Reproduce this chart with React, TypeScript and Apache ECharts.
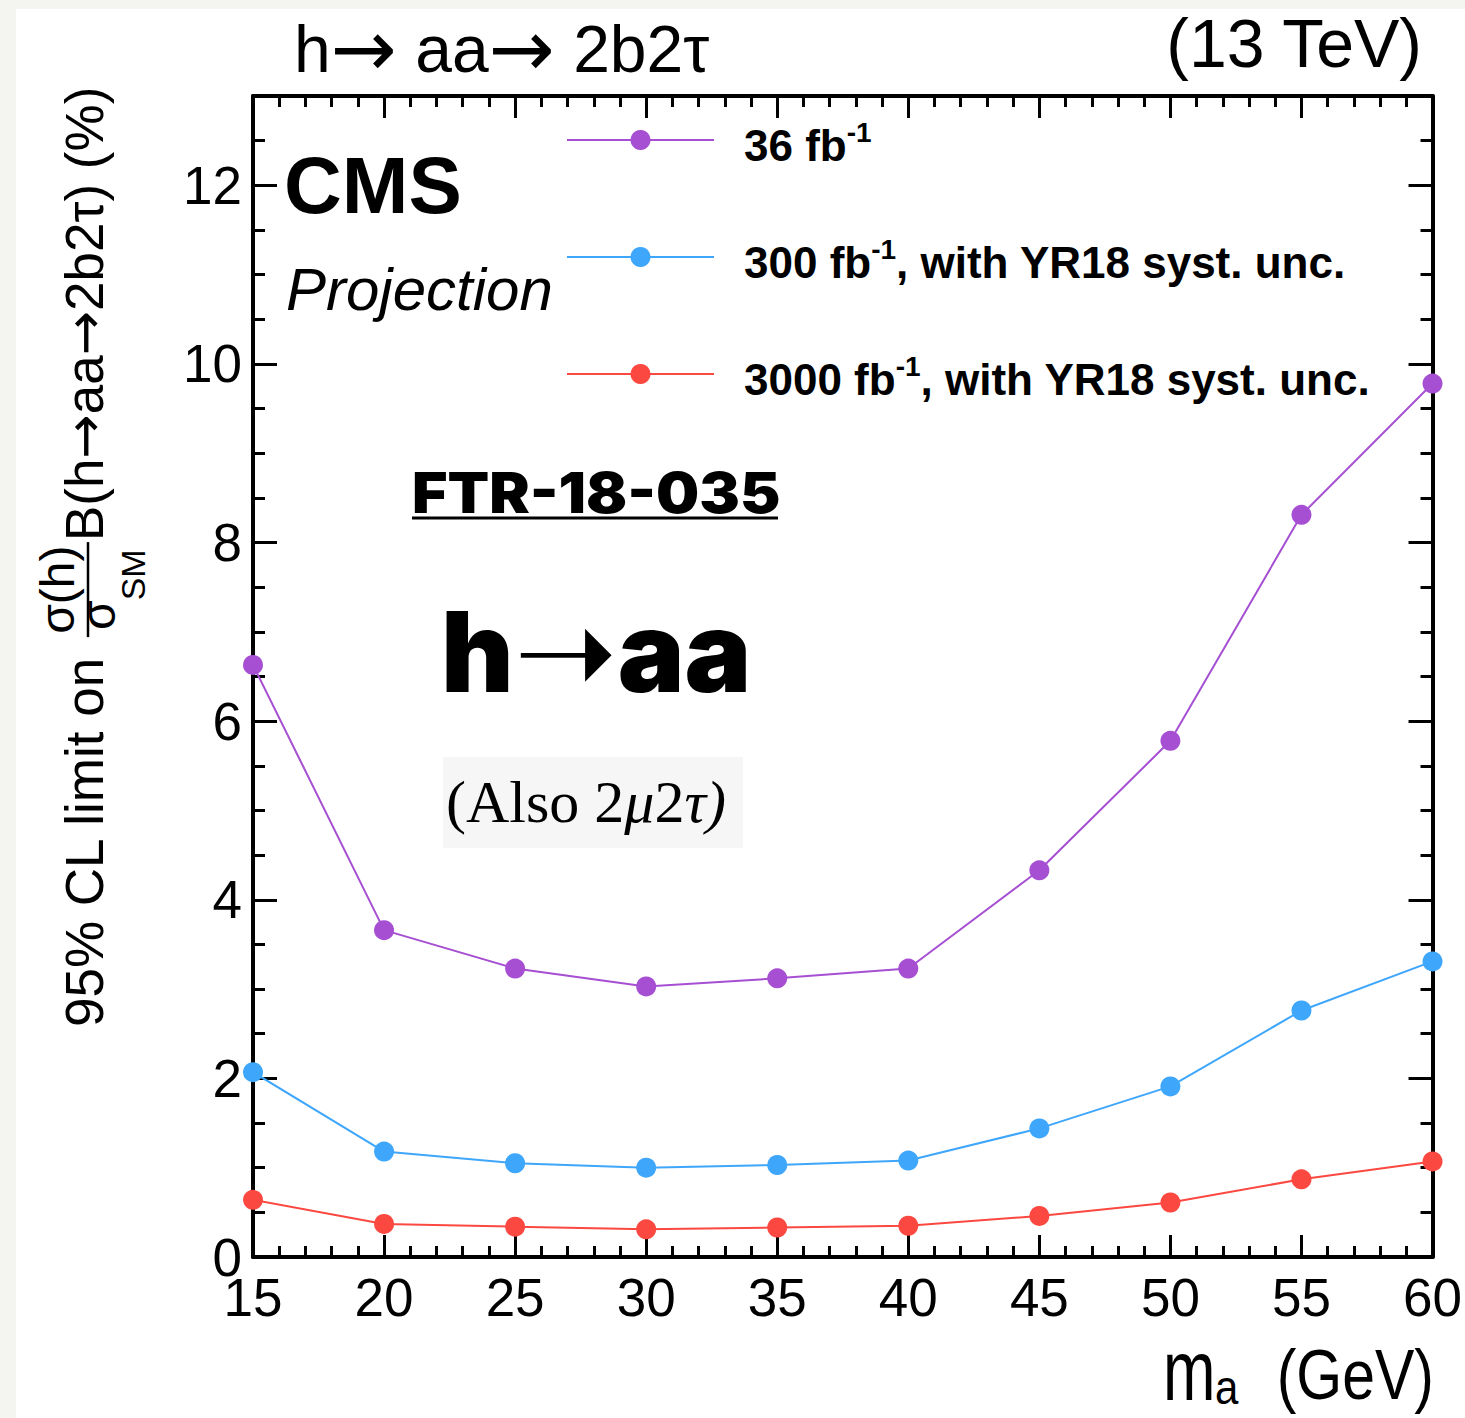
import React, { useEffect, useRef } from "react";
import * as echarts from "echarts";

// Pseudoscalar mass points (GeV) and expected 95% CL limits (%)
const MASS = [15, 20, 25, 30, 35, 40, 45, 50, 55, 60];
const LIMIT_36 = [6.63, 3.66, 3.23, 3.03, 3.12, 3.23, 4.33, 5.78, 8.31, 9.78];
const LIMIT_300 = [2.07, 1.18, 1.05, 1.0, 1.03, 1.08, 1.44, 1.91, 2.76, 3.31];
const LIMIT_3000 = [0.64, 0.37, 0.34, 0.31, 0.33, 0.35, 0.46, 0.61, 0.87, 1.07];

const SERIES_NAMES = [
  "36 fb-1",
  "300 fb-1, with YR18 syst. unc.",
  "3000 fb-1, with YR18 syst. unc.",
];
const SERIES_COLORS = ["#a64fd2", "#3ea6fb", "#fb4840"];

const X_RANGE = [15, 60];
const Y_RANGE = [0, 13];

const SANS = "'Liberation Sans', Arial, Helvetica, sans-serif";
const SERIF = "'Liberation Serif', 'Times New Roman', serif";
const HEAVY = "Inter, 'Liberation Sans', sans-serif";
const ARROW = "'DejaVu Sans', sans-serif";

const measureCtx = document.createElement("canvas").getContext("2d");
function textWidth(text: string, size: number, family = SANS, weight = "normal") {
  if (!measureCtx) return text.length * size * 0.55;
  measureCtx.font = `${weight} ${size}px ${family}`;
  return measureCtx.measureText(text).width;
}

// centre line of a text box for a given baseline
const mid = (baseline: number, size: number, k = 0.35) => baseline - k * size;

function txt(text: string, x: number, y: number, size: number, extra: any = {}) {
  const { align = "left", family = SANS, weight = "normal", fontStyle = "normal", rich, ...rest } = extra;
  return {
    type: "text",
    x,
    y,
    z: 100,
    ...rest,
    style: {
      text,
      fontSize: size,
      fontFamily: family,
      fontWeight: weight,
      fontStyle,
      fill: "#000",
      align,
      verticalAlign: "middle",
      rich,
    },
  };
}

function buildYTitle() {
  const fs = 53;
  const w1 = textWidth("95% CL limit on ", fs);
  const fracStart = w1 + 2;
  const fracLen = 95;
  const center = fracStart + fracLen / 2;
  const sigW = textWidth("σ", 48);
  const smW = textWidth("SM", 34);
  const denStart = center - (sigW + smW) / 2;
  return {
    type: "group",
    x: 103,
    y: 1025,
    rotation: Math.PI / 2,
    children: [
      txt("95% CL limit on ", -2, mid(0, fs), fs),
      {
        type: "line",
        z: 100,
        shape: { x1: fracStart, y1: -15, x2: fracStart + fracLen, y2: -15 },
        style: { stroke: "#000", lineWidth: 2.5 },
      },
      txt("σ(h)", center, mid(-29, 48), 48, { align: "center" }),
      txt("σ", denStart, mid(12, 48), 48),
      txt("SM", denStart + sigW, mid(42, 34), 34),
      txt("{n|B(h}{a|→}{n|aa}{a|→}{n|2b2τ) (%)}", fracStart + fracLen + 1, mid(0, fs), fs, {
        rich: {
          n: { fontSize: fs, fontFamily: SANS, fill: "#000" },
          a: { fontSize: fs, fontFamily: ARROW, fill: "#000" },
        },
      }),
    ],
  };
}

function legendLabel(name: string) {
  const idx = name.indexOf("-1");
  const before = name.slice(0, idx);
  const after = name.slice(idx + 2);
  return `{t|${before}}{s|-1}` + (after ? `{t|${after}}` : "");
}

export default function App() {
  const ref = useRef<HTMLDivElement>(null);

  useEffect(() => {
    if (!ref.current) return;
    const chart = echarts.init(ref.current, null, { renderer: "svg" });

    const axisLine = { show: true, onZero: false, lineStyle: { color: "#000", width: 4 } };
    const majorTick = (length: number) => ({
      show: true,
      inside: true,
      length,
      lineStyle: { color: "#000", width: 3 },
    });
    const noLabel = { show: false };
    const tickLabel = { fontSize: 53, color: "#000", fontFamily: SANS };

    const xBase = {
      type: "value",
      min: X_RANGE[0],
      max: X_RANGE[1],
      interval: 5,
      axisLine,
      axisTick: majorTick(22),
      minorTick: { show: true, splitNumber: 5, length: 11, lineStyle: { color: "#000", width: 3 } },
      splitLine: { show: false },
      minorSplitLine: { show: false },
    };
    const yMajor = (position: string, labels: boolean) => ({
      type: "value",
      position,
      min: Y_RANGE[0],
      max: Y_RANGE[1],
      interval: 2,
      axisLine,
      axisTick: majorTick(24),
      axisLabel: labels ? { ...tickLabel, margin: 11, showMaxLabel: false } : noLabel,
      splitLine: { show: false },
    });
    const yMinor = (position: string) => ({
      type: "value",
      position,
      min: Y_RANGE[0],
      max: Y_RANGE[1],
      interval: 0.5,
      axisLine: { show: false, onZero: false },
      axisTick: majorTick(12),
      axisLabel: noLabel,
      splitLine: { show: false },
    });

    const datasets = [LIMIT_36, LIMIT_300, LIMIT_3000];

    const option: any = {
      animation: false,
      backgroundColor: "#ffffff",
      grid: { left: 253, right: 29, top: 96, bottom: 161, containLabel: false },
      xAxis: [
        { ...xBase, position: "bottom", axisLabel: { ...tickLabel, margin: 14 } },
        { ...xBase, position: "top", axisLabel: noLabel },
      ],
      yAxis: [yMajor("left", true), yMinor("left"), yMajor("right", false), yMinor("right")],
      legend: {
        show: true,
        orient: "vertical",
        left: 566,
        top: 118,
        padding: 0,
        itemWidth: 147,
        itemHeight: 25,
        itemGap: 68,
        selectedMode: false,
        data: SERIES_NAMES,
        formatter: legendLabel,
        textStyle: {
          color: "#000",
          fontFamily: SANS,
          fontWeight: "bold",
          fontSize: 44,
          padding: [10, 0, 0, 25],
          rich: {
            t: { fontSize: 44, fontWeight: "bold", fontFamily: SANS, color: "#000", lineHeight: 54 },
            s: {
              fontSize: 28,
              fontWeight: "bold",
              fontFamily: SANS,
              color: "#000",
              lineHeight: 28,
              verticalAlign: "top",
            },
          },
        },
      },
      series: SERIES_NAMES.map((name, i) => ({
        type: "line",
        name,
        xAxisIndex: 0,
        yAxisIndex: 0,
        data: MASS.map((m, j) => [m, datasets[i][j]]),
        symbol: "circle",
        symbolSize: 20,
        clip: false,
        z: 3 + i,
        lineStyle: { color: SERIES_COLORS[i], width: 2 },
        itemStyle: { color: SERIES_COLORS[i] },
      })),
      graphic: [
        // page border strips
        { type: "rect", z: 0, shape: { x: 0, y: 0, width: 1465, height: 9 }, style: { fill: "#f4f5f1" } },
        { type: "rect", z: 0, shape: { x: 0, y: 0, width: 16, height: 1418 }, style: { fill: "#f4f5f1" } },
        // header
        txt("{n|h}{a|→}{n| aa}{a|→}{n| 2b2τ}", 294, mid(72, 66), 66, {
          rich: {
            n: { fontSize: 66, fontFamily: SANS, fill: "#000" },
            a: { fontSize: 79, fontFamily: ARROW, fill: "#000" },
          },
        }),
        txt("(13 TeV)", 1422, mid(67, 68), 68, { align: "right" }),
        // experiment labels
        txt("CMS", 284, mid(213, 80), 80, { weight: "bold" }),
        txt("Projection", 286, mid(310, 60), 60, { fontStyle: "italic" }),
        // analysis tag
        txt("FTR-18-035", 412, mid(513, 56, 0.3635), 56, { family: HEAVY, weight: 900, scaleX: 1.085 }),
        {
          type: "line",
          z: 100,
          shape: { x1: 412, y1: 518, x2: 778, y2: 518 },
          style: { stroke: "#000", lineWidth: 3 },
        },
        txt("{h|h}{a|➝}{h|aa}", 441, mid(692, 112, 0.3635), 112, {
          family: HEAVY,
          weight: 900,
          rich: {
            h: { fontSize: 112, fontFamily: HEAVY, fontWeight: 900, fill: "#000" },
            a: { fontSize: 124, fontFamily: ARROW, fill: "#000" },
          },
        }),
        { type: "rect", z: 90, shape: { x: 443, y: 757, width: 300, height: 91 }, style: { fill: "#f6f6f6" } },
        txt("{n|(Also 2}{i|μ}{n|2}{i|τ)}", 446, mid(822, 60, 0.3375), 60, {
          family: SERIF,
          rich: {
            n: { fontSize: 60, fontFamily: SERIF, fill: "#000" },
            i: { fontSize: 60, fontFamily: SERIF, fontStyle: "italic", fill: "#000" },
          },
        }),
        // axis titles
        buildYTitle(),
        txt("m", 1163, 1370, 63, { scaleY: 1.35 }),
        txt("a", 1215, 1387, 42, { scaleY: 1.15 }),
        txt("(GeV)", 1434, 1375, 59, { align: "right", scaleY: 1.2 }),
      ],
    };

    chart.setOption(option);
    return () => chart.dispose();
  }, []);

  return (
    <div
      ref={ref}
      style={{ position: "absolute", left: 0, top: 0, width: 1465, height: 1418 }}
    />
  );
}
